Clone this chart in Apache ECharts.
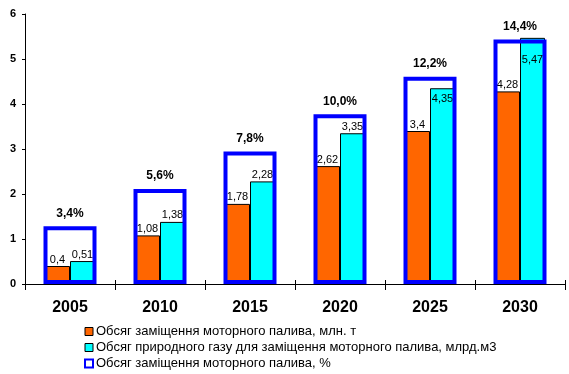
<!DOCTYPE html>
<html><head><meta charset="utf-8">
<script src="https://cdn.jsdelivr.net/npm/echarts@6/dist/echarts.min.js"></script>
<style>html,body{margin:0;padding:0;background:#fff}#c{width:569px;height:374px}</style>
</head><body><div id="c"></div>
<script>
const categories = ['2005','2010','2015','2020','2025','2030'];
const fuelMt = [0.4, 1.08, 1.78, 2.62, 3.4, 4.28];
const gasBcm = [0.51, 1.38, 2.28, 3.35, 4.35, 5.47];
const sharePct = [3.4, 5.6, 7.8, 10.0, 12.2, 14.4];
const yTicks = [0, 1, 2, 3, 4, 5, 6];

const names = ['Обсяг заміщення моторного палива, млн. т',
  'Обсяг природного газу для заміщення моторного палива, млрд.м3',
  'Обсяг заміщення моторного палива, %'];
const font = 'Arial, "Liberation Sans", sans-serif';
const comma = v => String(v).replace('.', ',');
const insideDist = {4: 5, 5: 17};

const chart = echarts.init(document.getElementById('c'), null, {renderer: 'canvas'});
chart.setOption({
  animation: false,
  backgroundColor: '#ffffff',
  grid: {left: 25, right: 4, top: 14, bottom: 90, containLabel: false},
  xAxis: [{
    type: 'category', data: categories,
    axisLine: {lineStyle: {color: '#000', width: 1}},
    axisTick: {show: true, length: 6, lineStyle: {color: '#000'}},
    axisLabel: {color: '#000', fontFamily: font, fontWeight: 'bold', fontSize: 16, margin: 16}
  }, {
    type: 'category', data: categories, position: 'bottom',
    axisLine: {show: false}, axisLabel: {show: false},
    axisTick: {show: true, inside: true, length: 4, lineStyle: {color: '#000'}}
  }],
  yAxis: [{
    type: 'value', min: yTicks[0], max: yTicks[yTicks.length - 1], interval: 1,
    splitLine: {show: false},
    axisLine: {show: true, lineStyle: {color: '#000'}},
    axisTick: {show: true, length: 3, lineStyle: {color: '#000'}},
    axisLabel: {color: '#000', fontFamily: font, fontWeight: 'bold', fontSize: 11, margin: 9}
  }, {
    type: 'value', min: 0, max: 15.9, show: false, splitLine: {show: false}
  }],
  legend: {
    orient: 'vertical', left: 84, top: 325, itemWidth: 8, itemHeight: 8, itemGap: 3,
    icon: 'rect', padding: 0,
    textStyle: {color: '#000', fontFamily: font, fontSize: 13, lineHeight: 12, padding: [0, 0, 0, -2]},
    data: [
      {name: names[0], itemStyle: {color: '#FF6600', borderColor: '#000', borderWidth: 1}},
      {name: names[1], itemStyle: {color: '#00FFFF', borderColor: '#000', borderWidth: 1}},
      {name: names[2], itemStyle: {color: '#ffffff', borderColor: '#0000FF', borderWidth: 2}}
    ]
  },
  series: [{
    name: names[0], type: 'bar', xAxisIndex: 0, yAxisIndex: 0,
    data: fuelMt, barWidth: 25, barGap: '0%', z: 2,
    itemStyle: {color: '#FF6600', borderColor: '#000', borderWidth: 1},
    label: {show: true, position: 'top', distance: 1, color: '#000', fontFamily: font, fontSize: 11,
      formatter: p => comma(p.value)}
  }, {
    name: names[1], type: 'bar', xAxisIndex: 0, yAxisIndex: 0,
    data: gasBcm.map((v, i) => insideDist[i] !== undefined ?
      {value: v, label: {position: 'insideTop', distance: insideDist[i]}} : v),
    barWidth: 25, barGap: '0%', z: 2,
    itemStyle: {color: '#00FFFF', borderColor: '#000', borderWidth: 1},
    label: {show: true, position: 'top', distance: 1, color: '#000', fontFamily: font, fontSize: 11,
      formatter: p => comma(p.value)}
  }, {
    name: names[2], type: 'bar', xAxisIndex: 1, yAxisIndex: 1,
    data: sharePct, barWidth: 53, z: 3,
    itemStyle: {color: 'rgba(0,0,0,0)', borderColor: '#0000FF', borderWidth: 4},
    label: {show: true, position: 'top', distance: 7, color: '#000', fontFamily: font,
      fontWeight: 'bold', fontSize: 12, formatter: p => p.value.toFixed(1).replace('.', ',') + '%'}
  }]
});
</script></body></html>
